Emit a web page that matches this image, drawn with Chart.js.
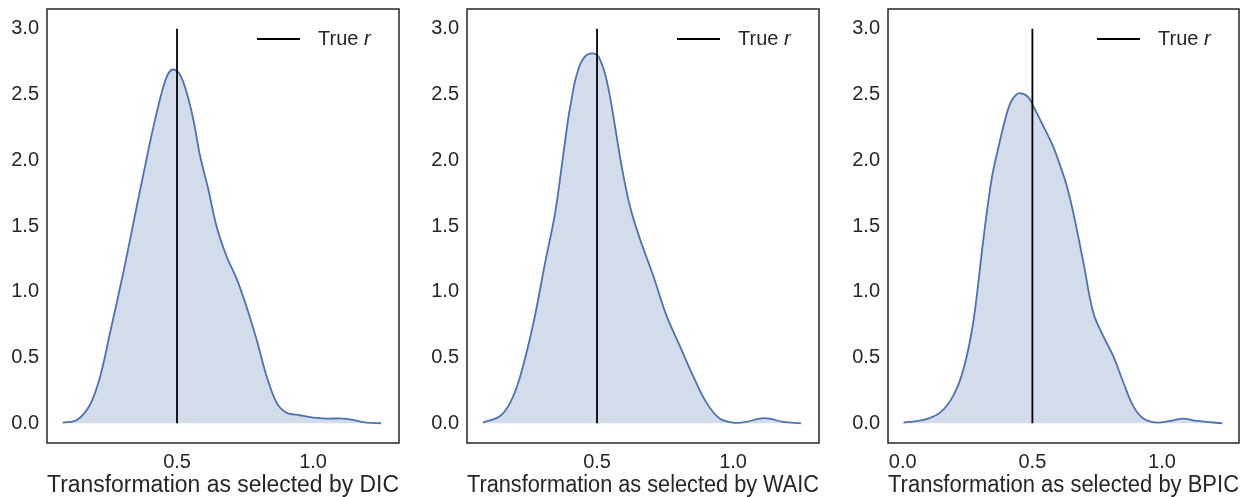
<!DOCTYPE html>
<html>
<head>
<meta charset="utf-8">
<script src="https://cdn.jsdelivr.net/npm/chart.js@4/dist/chart.umd.min.js"></script>
<style>
  html, body { margin: 0; padding: 0; background: #ffffff; }
  #wrap { position: relative; width: 1254px; height: 497px; overflow: hidden; }
  .panel { position: absolute; top: 0; height: 497px; }
</style>
</head>
<body>
<div id="wrap"></div>
<script>
// Kernel density estimates of the selected transformation, one per criterion
const dicX  = [0.080, 0.132, 0.181, 0.218, 0.254, 0.303, 0.352, 0.382, 0.400, 0.425, 0.450, 0.468, 0.486, 0.511, 0.536, 0.560, 0.585, 0.615, 0.645, 0.682, 0.719, 0.755, 0.792, 0.829, 0.866, 0.902, 0.951, 1.000, 1.049, 1.110, 1.147, 1.196, 1.250];
const dicY  = [0.005, 0.025, 0.145, 0.360, 0.690, 1.150, 1.650, 1.950, 2.130, 2.360, 2.560, 2.660, 2.690, 2.650, 2.510, 2.310, 2.030, 1.780, 1.500, 1.270, 1.100, 0.890, 0.640, 0.360, 0.157, 0.081, 0.061, 0.043, 0.036, 0.036, 0.025, 0.005, 0.000];

const waicX = [0.081, 0.144, 0.181, 0.218, 0.267, 0.309, 0.346, 0.377, 0.395, 0.407, 0.419, 0.438, 0.456, 0.474, 0.490, 0.505, 0.529, 0.548, 0.566, 0.590, 0.621, 0.658, 0.707, 0.755, 0.804, 0.853, 0.902, 0.951, 1.000, 1.049, 1.098, 1.134, 1.183, 1.250];
const waicY = [0.005, 0.056, 0.157, 0.360, 0.770, 1.220, 1.600, 2.060, 2.330, 2.470, 2.600, 2.730, 2.790, 2.810, 2.810, 2.790, 2.660, 2.480, 2.260, 1.960, 1.650, 1.400, 1.120, 0.820, 0.590, 0.360, 0.157, 0.036, 0.005, 0.010, 0.036, 0.036, 0.010, 0.000];

const bpicX = [0.003, 0.080, 0.144, 0.195, 0.234, 0.272, 0.311, 0.343, 0.375, 0.395, 0.414, 0.433, 0.452, 0.484, 0.504, 0.542, 0.581, 0.607, 0.632, 0.658, 0.697, 0.735, 0.774, 0.812, 0.851, 0.889, 0.928, 0.980, 1.031, 1.082, 1.134, 1.233];
const bpicY = [0.005, 0.025, 0.081, 0.210, 0.410, 0.770, 1.400, 1.860, 2.150, 2.310, 2.430, 2.490, 2.510, 2.480, 2.410, 2.260, 2.100, 1.960, 1.810, 1.600, 1.220, 0.840, 0.660, 0.510, 0.310, 0.130, 0.036, 0.005, 0.018, 0.036, 0.018, 0.000];

// Reference value of r, drawn as a vertical segment
const trueR = 0.5;
const trueLineY = [0, 3.0];

// Tick labels
const yTicks = [0.0, 0.5, 1.0, 1.5, 2.0, 2.5, 3.0];
const xTicksDIC  = [0.5, 1.0];
const xTicksWAIC = [0.5, 1.0];
const xTicksBPIC = [0.0, 0.5, 1.0];

const xTitles = ['Transformation as selected by DIC', 'Transformation as selected by WAIC', 'Transformation as selected by BPIC'];
const legendText = 'True ';
const legendSymbol = 'r';

const FONT = "'Liberation Sans', Arial, Helvetica, sans-serif";
const INK = '#262626';
const BLUE = '#4C72B0';
const FILL = 'rgba(76,114,176,0.25)';

// Axis box around the plotting area
const framePlugin = {
  id: 'frame',
  afterDraw(chart) {
    const { ctx, chartArea: a } = chart;
    ctx.save();
    ctx.strokeStyle = INK;
    ctx.lineWidth = 1.5;
    ctx.strokeRect(a.left, a.top, a.right - a.left, a.bottom - a.top);
    ctx.restore();
  }
};

// Legend in the upper right corner: a short black line and "True r" with italic r
const keyPlugin = {
  id: 'trueKey',
  afterDraw(chart) {
    const { ctx, chartArea: a } = chart;
    const y = a.top + 30;
    ctx.save();
    ctx.strokeStyle = '#000000';
    ctx.lineWidth = 1.8;
    ctx.beginPath();
    ctx.moveTo(a.right - 142, y);
    ctx.lineTo(a.right - 99, y);
    ctx.stroke();
    ctx.fillStyle = INK;
    ctx.textBaseline = 'middle';
    ctx.textAlign = 'left';
    ctx.font = '20px ' + FONT;
    const x0 = a.right - 81;
    ctx.fillText(legendText, x0, y);
    const w = ctx.measureText(legendText).width;
    ctx.font = 'italic 20px ' + FONT;
    ctx.fillText(legendSymbol, x0 + w, y);
    ctx.restore();
  }
};

const panels = [
  { xs: dicX,  ys: dicY,  ticks: xTicksDIC,  title: xTitles[0], left: 0,   width: 420, axisW: 47, padR: 21, xmin: 0.022, xmax: 1.316 },
  { xs: waicX, ys: waicY, ticks: xTicksWAIC, title: xTitles[1], left: 420, width: 420, axisW: 47, padR: 21, xmin: 0.022, xmax: 1.316 },
  { xs: bpicX, ys: bpicY, ticks: xTicksBPIC, title: xTitles[2], left: 840, width: 414, axisW: 48, padR: 15, xmin: -0.057, xmax: 1.297 }
];

const wrap = document.getElementById('wrap');

panels.forEach((p) => {
  const div = document.createElement('div');
  div.className = 'panel';
  div.style.left = p.left + 'px';
  div.style.width = p.width + 'px';
  const canvas = document.createElement('canvas');
  canvas.width = p.width;
  canvas.height = 497;
  canvas.style.width = p.width + 'px';
  canvas.style.height = '497px';
  div.appendChild(canvas);
  wrap.appendChild(div);

  const density = p.xs.map((x, i) => ({ x: x, y: p.ys[i] }));
  const vline = trueLineY.map((y) => ({ x: trueR, y: y }));

  new Chart(canvas.getContext('2d'), {
    type: 'line',
    data: {
      datasets: [
        {
          label: 'True r',
          data: vline,
          borderColor: '#000000',
          borderWidth: 1.8,
          pointRadius: 0,
          fill: false,
          tension: 0
        },
        {
          label: 'density',
          data: density,
          borderColor: BLUE,
          borderWidth: 1.8,
          backgroundColor: FILL,
          pointRadius: 0,
          fill: 'origin',
          tension: 0.35
        }
      ]
    },
    options: {
      responsive: false,
      animation: false,
      devicePixelRatio: 1,
      layout: { padding: { left: 0, top: 9, right: p.padR, bottom: 0 } },
      plugins: { legend: { display: false }, tooltip: { enabled: false } },
      scales: {
        x: {
          type: 'linear',
          min: p.xmin,
          max: p.xmax,
          grid: { display: false, drawTicks: false },
          border: { display: false },
          afterBuildTicks: (s) => { s.ticks = p.ticks.map((v) => ({ value: v })); },
          afterFit: (s) => { s.height = 54; s.paddingLeft = 0; s.paddingRight = 0; },
          ticks: {
            font: { family: FONT, size: 20 },
            color: INK,
            padding: 7,
            maxRotation: 0,
            callback: (v) => Number(v).toFixed(1)
          },
          title: {
            display: true,
            text: p.title,
            color: INK,
            font: { family: FONT, size: 23, lineHeight: 1.0 },
            padding: { top: 0, bottom: 0 }
          }
        },
        y: {
          type: 'linear',
          min: -0.15,
          max: 3.15,
          grid: { display: false, drawTicks: false },
          border: { display: false },
          afterBuildTicks: (s) => { s.ticks = yTicks.map((v) => ({ value: v })); },
          afterFit: (s) => { s.width = p.axisW; s.paddingTop = 0; s.paddingBottom = 0; },
          ticks: {
            font: { family: FONT, size: 20 },
            color: INK,
            padding: 8,
            callback: (v) => Number(v).toFixed(1)
          }
        }
      }
    },
    plugins: [framePlugin, keyPlugin]
  });
});
</script>
</body>
</html>
